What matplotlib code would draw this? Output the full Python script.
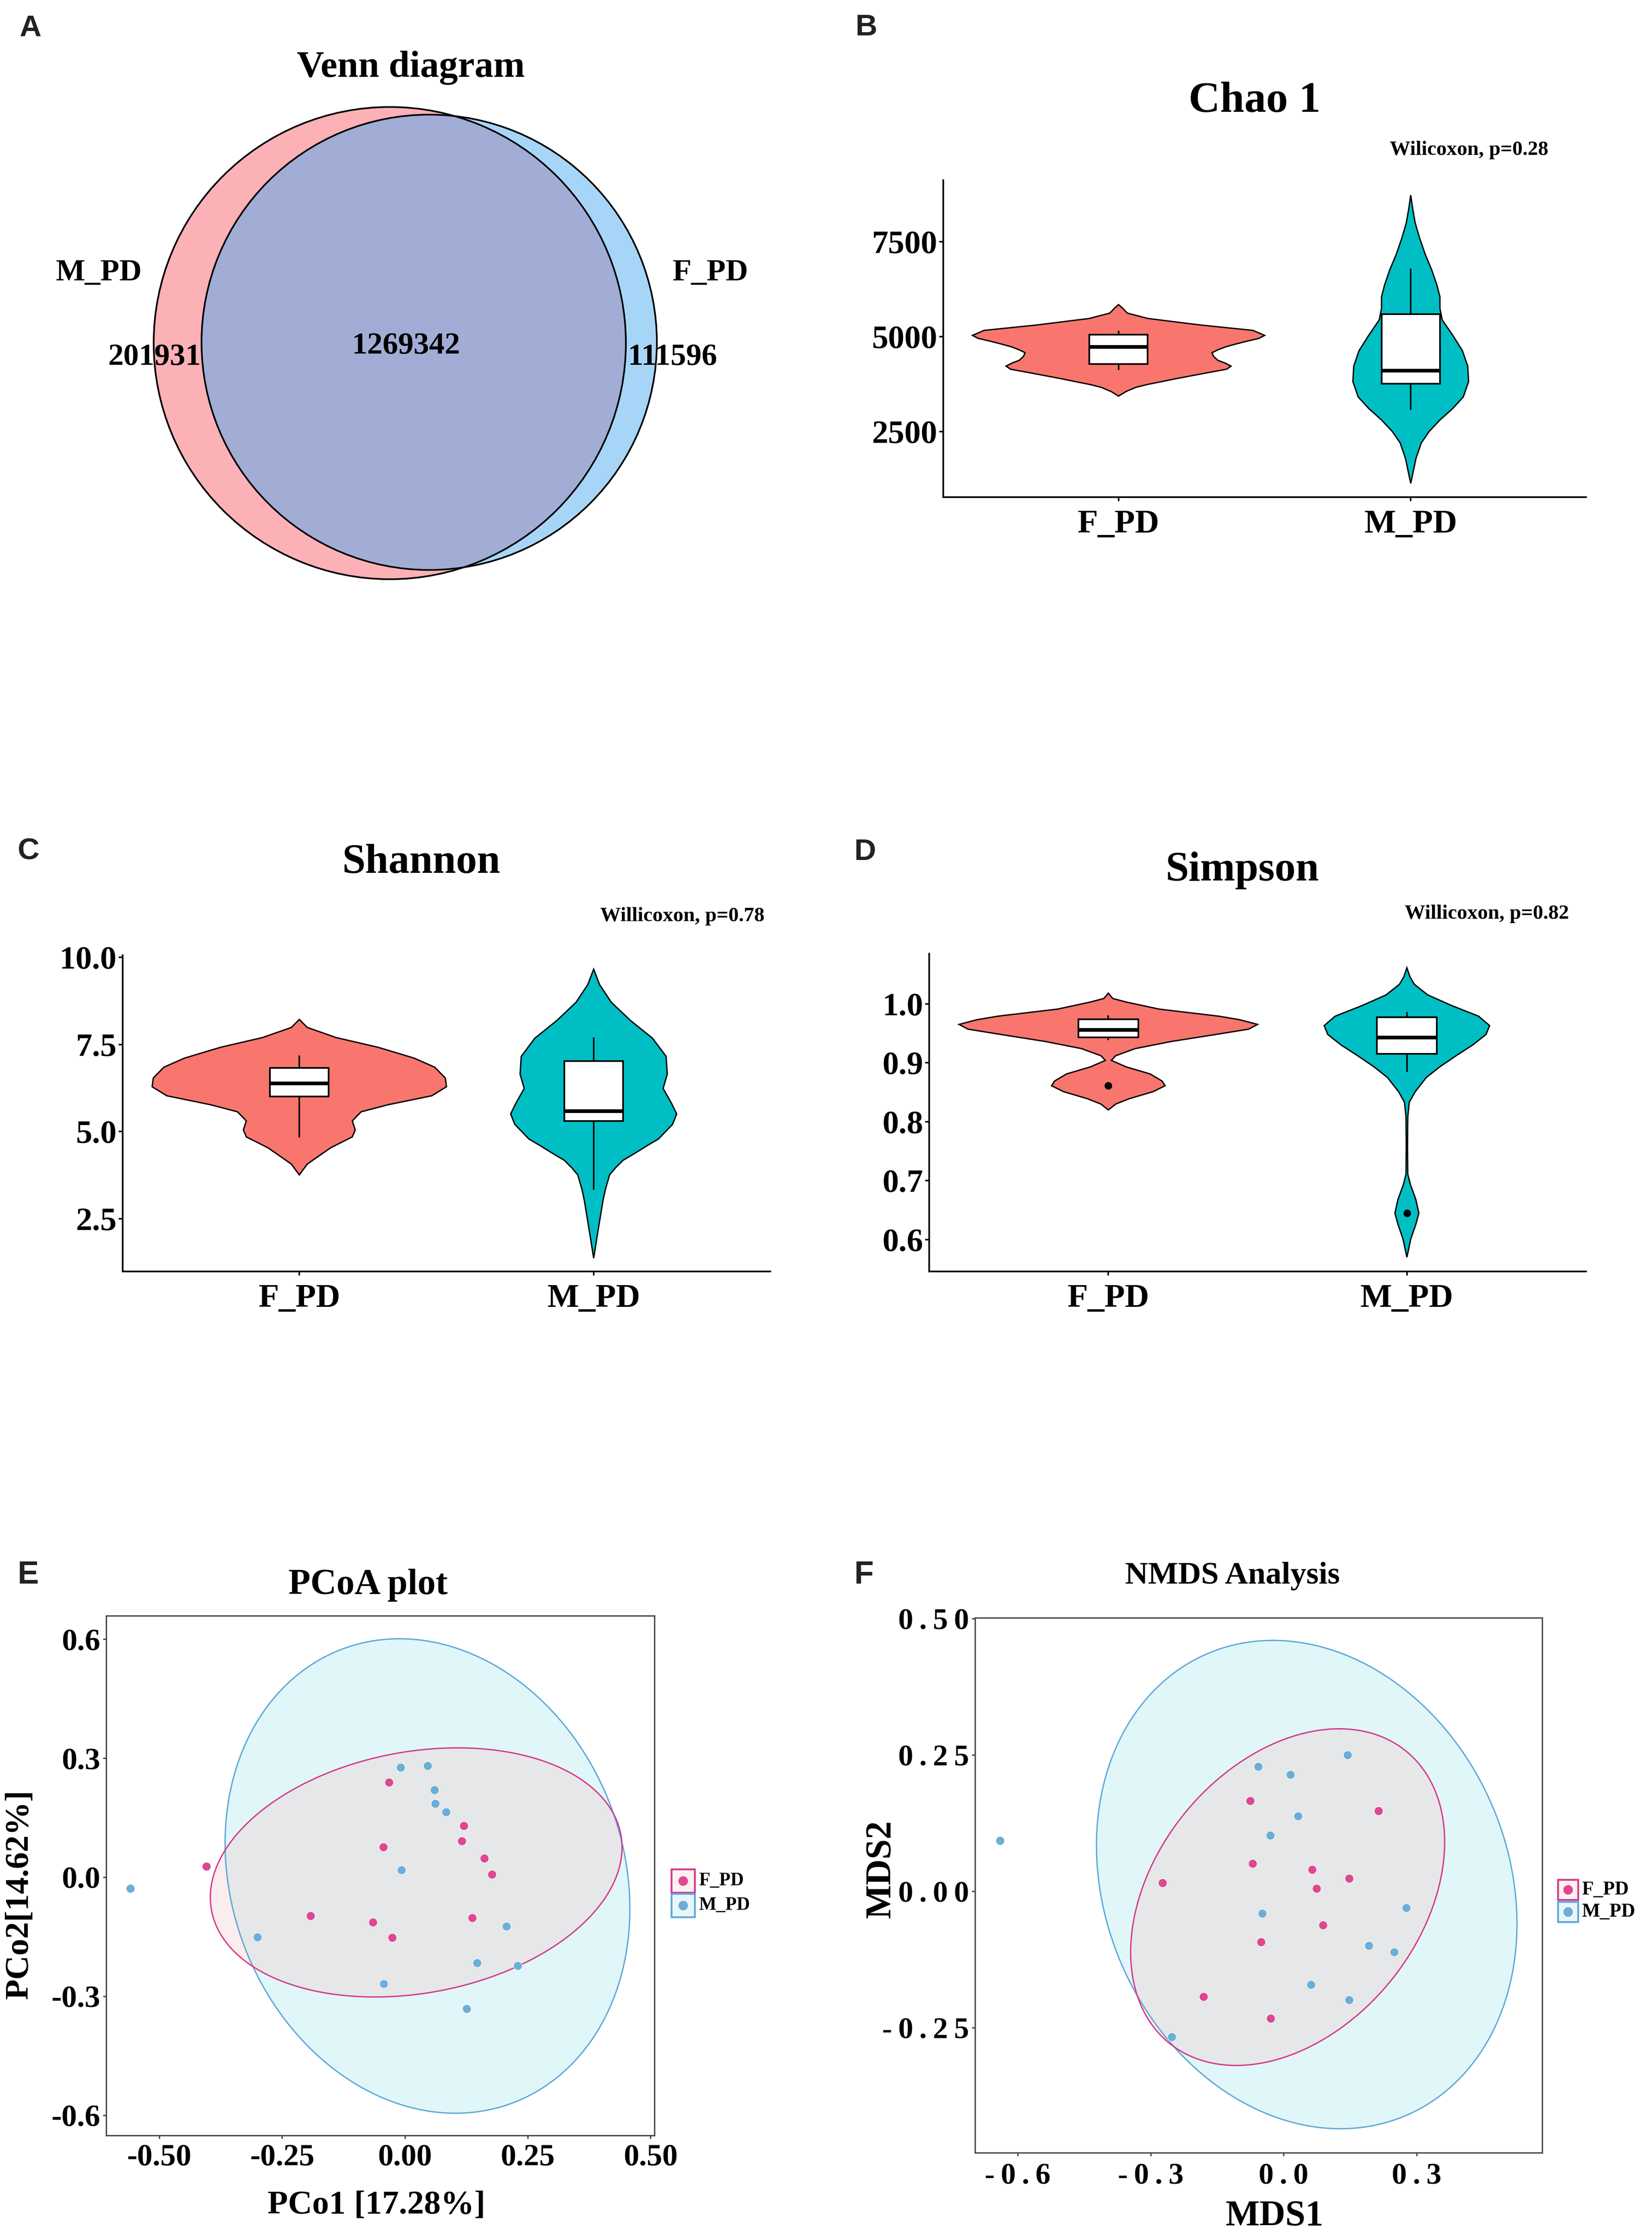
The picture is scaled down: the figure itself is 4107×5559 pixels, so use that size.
import numpy as np
import matplotlib
matplotlib.use('Agg')
import matplotlib.pyplot as plt
from matplotlib.patches import Circle, Rectangle
from matplotlib import font_manager, ft2font

W, H = 4107, 5559
DPI = 300
SERIF = 'Liberation Serif'
SANS = 'Liberation Sans'

groups = ['F_PD', 'M_PD']
violin_colors = ['#F8766D', '#00BFC4']
point_colors = ['#DC4892', '#6BAED8']
ellipse_edges = ['#D8388C', '#5EA9DA']

# ---- Venn counts
venn_names = ['M_PD', 'F_PD']
venn_only_m = 201931
venn_shared = 1269342
venn_only_f = 111596

# ---- Chao 1 violins (value, half width in category units)
chao_f_y = [5840, 5760, 5617, 5476, 5304, 5162, 5030, 4950, 4879, 4800, 4727, 4650, 4575,
            4480, 4373, 4300, 4221, 4140, 4069, 3968, 3880, 3816, 3740, 3664, 3550, 3431]
chao_f_w = [0, 0.012, 0.03, 0.10, 0.28, 0.46, 0.50, 0.48, 0.44, 0.40, 0.366, 0.34, 0.32,
            0.325, 0.34, 0.365, 0.385, 0.37, 0.32, 0.25, 0.19, 0.15, 0.10, 0.06, 0.025, 0]
chao_m_y = [8725, 8400, 8000, 7600, 7156, 6751, 6346, 6042, 5739, 5435, 5030, 4626, 4221,
            3816, 3411, 3107, 2803, 2500, 2196, 1791, 1387, 1134]
chao_m_w = [0, 0.006, 0.015, 0.03, 0.05, 0.072, 0.09, 0.1, 0.1, 0.108, 0.144, 0.177, 0.195,
            0.198, 0.18, 0.144, 0.1, 0.063, 0.036, 0.018, 0.007, 0]
# whislo, q1, median, q3, whishi
chao_f_box = [4141, 4273, 4729, 5046, 5130]
chao_m_box = [3088, 3762, 4102, 5588, 6772]
chao_ticks = [2500, 5000, 7500]

# ---- Shannon
shan_f_y = [8.22, 7.99, 7.70, 7.42, 7.11, 6.85, 6.54, 6.29, 6.03, 5.77, 5.57, 5.31, 5.05,
            4.85, 4.54, 4.28, 4.07, 3.76]
shan_f_w = [0, 0.027, 0.125, 0.268, 0.39, 0.46, 0.496, 0.5, 0.45, 0.30, 0.21, 0.18, 0.19,
            0.18, 0.107, 0.0625, 0.027, 0]
shan_m_y = [9.66, 9.22, 8.71, 8.19, 7.68, 7.16, 6.65, 6.24, 5.82, 5.51, 5.21, 4.79, 4.59,
            4.38, 4.18, 3.97, 3.76, 3.35, 3.04, 2.53, 2.01, 1.37]
shan_m_w = [0, 0.02, 0.06, 0.125, 0.2, 0.246, 0.25, 0.236, 0.264, 0.282, 0.268, 0.22, 0.18,
            0.14, 0.10, 0.075, 0.054, 0.04, 0.032, 0.022, 0.012, 0]
shan_f_box = [4.85, 6.01, 6.39, 6.83, 7.16]
shan_m_box = [3.35, 5.31, 5.59, 7.03, 7.68]
shan_ticks = [2.5, 5.0, 7.5, 10.0]

# ---- Simpson
simp_f_y = [1.018, 1.009, 1.003, 0.991, 0.979, 0.973, 0.965, 0.957, 0.948, 0.936, 0.924,
            0.912, 0.904, 0.893, 0.881, 0.869, 0.861, 0.851, 0.839, 0.830, 0.820]
simp_f_w = [0, 0.015, 0.06, 0.17, 0.37, 0.44, 0.5, 0.47, 0.36, 0.21, 0.09,
            0.025, 0.01, 0.06, 0.14, 0.18, 0.19, 0.15, 0.07, 0.025, 0]
simp_m_y = [1.061, 1.046, 1.033, 1.015, 0.997, 0.979, 0.963, 0.948, 0.930, 0.912, 0.893,
            0.875, 0.851, 0.833, 0.808, 0.760, 0.711, 0.693, 0.668, 0.645, 0.626, 0.601, 0.570]
simp_m_w = [0, 0.01, 0.025, 0.07, 0.15, 0.24, 0.277, 0.265, 0.22, 0.165, 0.11,
            0.065, 0.028, 0.008, 0.003, 0.002, 0.003, 0.012, 0.03, 0.04, 0.03, 0.013, 0]
simp_f_box = [0.940, 0.943, 0.956, 0.974, 0.979]
simp_m_box = [0.886, 0.915, 0.943, 0.977, 0.985]
simp_f_out = [0.861]
simp_m_out = [0.645]
simp_ticks = [0.6, 0.7, 0.8, 0.9, 1.0]

# ---- PCoA points
pcoa_f_x = [-0.404, -0.032, -0.044, 0.120, 0.116, 0.162, 0.177, -0.192, -0.065, -0.026, 0.137]
pcoa_f_y = [0.027, 0.239, 0.076, 0.130, 0.091, 0.048, 0.007, -0.097, -0.114, -0.152, -0.102]
pcoa_m_x = [-0.559, -0.009, 0.046, 0.060, 0.062, 0.084, -0.007, -0.300, 0.207, 0.147, 0.230,
            -0.043, 0.126]
pcoa_m_y = [-0.028, 0.277, 0.281, 0.220, 0.185, 0.164, 0.018, -0.151, -0.124, -0.216, -0.223,
            -0.269, -0.332]
# ellipse: cx, cy, a (x shift at top), b, c (y half range)
pcoa_ell_f = [0.023, 0.012, 0.084, 0.4105, 0.314]
pcoa_ell_m = [0.046, 0.003, -0.057, 0.408, 0.598]

# ---- NMDS points
nmds_f_x = [-0.273, -0.076, -0.070, 0.064, 0.074, 0.148, 0.214, 0.089, -0.051, -0.181, -0.029]
nmds_f_y = [0.016, 0.166, 0.051, 0.040, 0.005, 0.024, 0.148, -0.062, -0.093, -0.193, -0.233]
nmds_m_x = [-0.640, -0.057, 0.015, 0.144, 0.032, -0.030, -0.048, 0.276, 0.192, 0.249, 0.061,
            0.148, -0.252]
nmds_m_y = [0.093, 0.229, 0.214, 0.250, 0.138, 0.103, -0.040, -0.030, -0.099, -0.111, -0.171,
            -0.199, -0.267]
nmds_ell_f = [0.009, -0.0105, 0.116, 0.3345, 0.3085]
nmds_ell_m = [0.052, 0.0125, -0.076, 0.468, 0.4475]

fig = plt.figure(figsize=(W / DPI, H / DPI), dpi=DPI)

# the NMDS tick labels are letter spaced; use a thin space if the font has one
_serif_path = font_manager.findfont(font_manager.FontProperties(family=SERIF, weight='bold'))
THIN = '\u2009' if ft2font.FT2Font(_serif_path).get_char_index(0x2009) else ''


def spaced(s):
    return THIN.join(s)


def px_axes(left, top, right, bottom):
    return fig.add_axes([left / W, 1 - bottom / H, (right - left) / W, (bottom - top) / H])


def put_text(x, y, s, size, family=SERIF, ha='center', va='baseline', **kw):
    fig.text(x / W, 1 - y / H, s, fontsize=size, family=family, fontweight='bold',
             ha=ha, va=va, **kw)


# panel letters
for letter, x, y, size in [('A', 48, 90, 18), ('B', 2127, 88, 18), ('C', 44, 2136, 18),
                           ('D', 2124, 2138, 18), ('E', 44, 3937, 19), ('F', 2124, 3937, 19)]:
    put_text(x, y, letter, size, family=SANS, ha='left', color='#222222')

# ---------------- A: Venn
ax = px_axes(300, 200, 1750, 1500)
ax.set_xlim(300, 1750)
ax.set_ylim(1500, 200)
ax.axis('off')
pink = Circle((969, 853), 587, facecolor='#FCB1B6', edgecolor='none', zorder=1)
ax.add_patch(pink)
ax.add_patch(Circle((1067, 851), 566, facecolor='#A7D5F7', edgecolor='none', zorder=1))
shared = Circle((1067, 851), 566, facecolor='#A1ADD5', edgecolor='none', zorder=2)
ax.add_patch(shared)
shared.set_clip_path(pink)
ax.add_patch(Circle((969, 853), 587, facecolor='none', edgecolor='black', lw=1.0, zorder=4))
ax.add_patch(Circle((1067, 851), 566, facecolor='none', edgecolor='black', lw=1.0, zorder=4))
for s, x, y, size in [(venn_names[0], 246, 697, 18.5), (venn_names[1], 1766, 697, 18.5),
                      (str(venn_only_m), 384, 907, 18.5), (str(venn_shared), 1010, 879, 18.5),
                      (str(venn_only_f), 1672, 907, 18.5)]:
    ax.text(x, y, s, fontsize=size, family=SERIF, fontweight='bold', ha='center',
            va='baseline', zorder=3)
put_text(1021, 191, 'Venn diagram', 22.5)


# ---------------- B, C, D: violins
def violin_panel(box, ylim, profiles, boxes, outliers, ticks, tick_fmt):
    ax = px_axes(*box)
    for i, (ys, ws) in enumerate(profiles):
        pos = i + 1
        ys = np.asarray(ys, float)
        ws = np.asarray(ws, float)
        ax.fill(np.concatenate([pos - ws, (pos + ws)[::-1]]), np.concatenate([ys, ys[::-1]]),
                facecolor=violin_colors[i], edgecolor='black', lw=0.8, zorder=2)
    stats = []
    for i, b in enumerate(boxes):
        stats.append(dict(whislo=b[0], q1=b[1], med=b[2], q3=b[3], whishi=b[4],
                          fliers=outliers[i]))
    ax.bxp(stats, positions=[1, 2], widths=0.2, patch_artist=True, showcaps=False,
           boxprops=dict(facecolor='white', edgecolor='black', lw=1.0),
           medianprops=dict(color='black', lw=2.2),
           whiskerprops=dict(color='black', lw=0.9),
           flierprops=dict(marker='o', markerfacecolor='black', markeredgecolor='black',
                           markersize=3.5),
           zorder=3)
    ax.set_xlim(0.4, 2.6)
    ax.set_ylim(*ylim)
    ax.set_xticks([1, 2])
    ax.set_xticklabels(groups, fontsize=20, family=SERIF, fontweight='bold')
    ax.set_yticks(ticks)
    ax.set_yticklabels([tick_fmt.format(t) for t in ticks], fontsize=19.5, family=SERIF,
                       fontweight='bold')
    for side in ['top', 'right']:
        ax.spines[side].set_visible(False)
    for side in ['left', 'bottom']:
        ax.spines[side].set_linewidth(1.0)
    ax.tick_params(axis='both', direction='out', length=2.5, width=0.9, colors='black')
    ax.tick_params(axis='x', pad=5)
    ax.tick_params(axis='y', pad=1)
    return ax


violin_panel((2345, 448, 3943, 1236), (770, 9117),
             [(chao_f_y, chao_f_w), (chao_m_y, chao_m_w)],
             [chao_f_box, chao_m_box], [[], []], chao_ticks, '{:.0f}')
put_text(3119, 278, 'Chao 1', 26)
put_text(3652, 385, 'Wilicoxon, p=0.28', 12.3)

violin_panel((305, 2375, 1915, 3161), (0.99, 10.06),
             [(shan_f_y, shan_f_w), (shan_m_y, shan_m_w)],
             [shan_f_box, shan_m_box], [[], []], shan_ticks, '{:.1f}')
put_text(1047, 2170, 'Shannon', 25)
put_text(1696, 2290, 'Willicoxon, p=0.78', 12.3)

violin_panel((2310, 2371, 3943, 3161), (0.546, 1.085),
             [(simp_f_y, simp_f_w), (simp_m_y, simp_m_w)],
             [simp_f_box, simp_m_box], [simp_f_out, simp_m_out], simp_ticks, '{:.1f}')
put_text(3088, 2189, 'Simpson', 25)
put_text(3696, 2284, 'Willicoxon, p=0.82', 12.3)


# ---------------- E, F: ordination
def ellipse_xy(p):
    t = np.linspace(0, 2 * np.pi, 300)
    cx, cy, a, b, c = p
    return cx + a * np.cos(t) + b * np.sin(t), cy + c * np.cos(t)


def ordination_panel(box, xlim, ylim, xticks, xlabels, yticks, ylabels,
                     fx, fy, mx, my, ell_f, ell_m, tick_size, xpad):
    ax = px_axes(*box)
    ex, ey = ellipse_xy(ell_m)
    ax.fill(ex, ey, facecolor='#E1F6F8', edgecolor='none', zorder=1)
    px_, py_ = ellipse_xy(ell_f)
    ax.fill(px_, py_, facecolor='#F4C6C6', alpha=0.3, edgecolor='none', zorder=2)
    ax.plot(ex, ey, color=ellipse_edges[1], lw=0.8, zorder=3)
    ax.plot(px_, py_, color=ellipse_edges[0], lw=0.8, zorder=3)
    ax.scatter(fx, fy, s=27, color=point_colors[0], edgecolors='white', linewidths=0.3,
               zorder=4)
    ax.scatter(mx, my, s=27, color=point_colors[1], edgecolors='white', linewidths=0.3,
               zorder=4)
    ax.set_xlim(*xlim)
    ax.set_ylim(*ylim)
    ax.set_xticks(xticks)
    ax.set_xticklabels(xlabels, fontsize=tick_size, family=SERIF, fontweight='bold')
    ax.set_yticks(yticks)
    ax.set_yticklabels(ylabels, fontsize=tick_size, family=SERIF, fontweight='bold')
    for sp in ax.spines.values():
        sp.set_linewidth(0.8)
        sp.set_color('#444444')
    ax.tick_params(axis='both', direction='out', length=2, width=0.8, color='#444444',
                   labelcolor='black')
    ax.tick_params(axis='x', pad=xpad)
    ax.tick_params(axis='y', pad=1.5)
    return ax


def legend_block(left, top, key, gap_y, text_x, size):
    ax = px_axes(left - 10, top - 10, left + 260, top + 2 * key + gap_y + 10)
    ax.set_xlim(left - 10, left + 260)
    ax.set_ylim(top + 2 * key + gap_y + 10, top - 10)
    ax.axis('off')
    fills = ['#FDF1F1', '#E9F6F9']
    for i in range(2):
        y0 = top + i * (key + gap_y)
        ax.add_patch(Rectangle((left, y0), key, key, facecolor=fills[i],
                               edgecolor=ellipse_edges[i], lw=1.1))
        ax.scatter([left + key / 2], [y0 + key / 2], s=22, color=point_colors[i], zorder=3)
        ax.text(text_x, y0 + key / 2, groups[i], fontsize=size, family=SERIF,
                fontweight='bold', ha='left', va='center')


ordination_panel((264, 4017, 1627, 5309), (-0.608, 0.508), (-0.651, 0.659),
                 [-0.5, -0.25, 0.0, 0.25, 0.5], ['-0.50', '-0.25', '0.00', '0.25', '0.50'],
                 [-0.6, -0.3, 0.0, 0.3, 0.6], ['-0.6', '-0.3', '0.0', '0.3', '0.6'],
                 pcoa_f_x, pcoa_f_y, pcoa_m_x, pcoa_m_y, pcoa_ell_f, pcoa_ell_m, 18.5, 3)
put_text(915, 3963, 'PCoA plot', 21.5)
put_text(936, 5503, 'PCo1 [17.28%]', 20)
put_text(49, 4709, 'PCo2[14.62%]', 20, rotation=90, va='center')
legend_block(1669, 4647, 58, 3, 1737, 11)

ordination_panel((2424, 4022, 3834, 5352), (-0.696, 0.583), (-0.479, 0.5015),
                 [-0.6, -0.3, 0.0, 0.3], [spaced(s) for s in ['-0.6', '-0.3', '0.0', '0.3']],
                 [-0.25, 0.0, 0.25, 0.5], [spaced(s) for s in ['-0.25', '0.00', '0.25', '0.50']],
                 nmds_f_x, nmds_f_y, nmds_m_x, nmds_m_y, nmds_ell_f, nmds_ell_m, 18, 4)
put_text(3064, 3937, 'NMDS Analysis', 19)
put_text(3168, 5533, 'MDS1', 21.5)
put_text(2191, 4647, 'MDS2', 21.5, rotation=90, va='center')
legend_block(3873, 4673, 50, 5, 3932, 11.5)

fig.savefig('out.png', dpi=DPI)
